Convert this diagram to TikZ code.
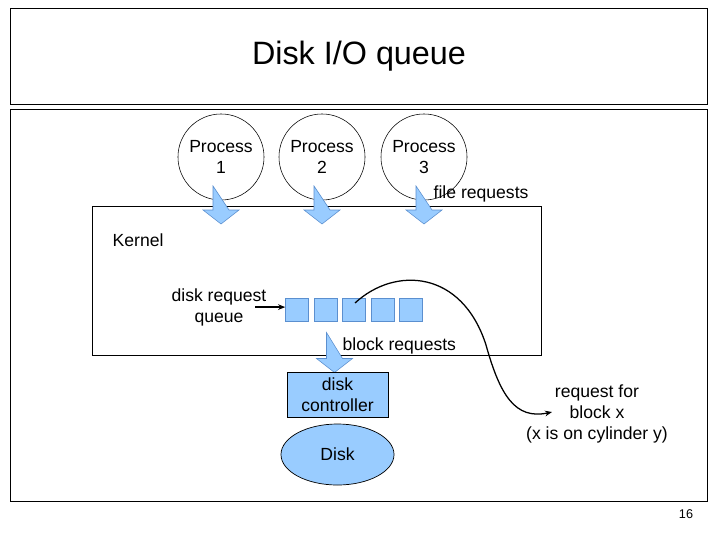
\documentclass[tikz,border=0pt]{standalone}
\usepackage{fontspec}
\setmainfont{Liberation Sans}
\usetikzlibrary{shapes.geometric, arrows.meta, positioning}
\definecolor{DiskBlue}{HTML}{99CCFF}
\definecolor{DiskEdge}{HTML}{5B8FCF}
\definecolor{DiskBlack}{HTML}{000000}
\definecolor{DiskWhite}{HTML}{FFFFFF}
\tikzset{
    framebox/.style={
        draw=DiskBlack,
        line width=0.7pt,
        fill=none,
        inner sep=0pt
    },
    process/.style={
        circle,
        draw=DiskBlack,
        line width=0.4pt,
        fill=DiskWhite,
        minimum size=2.15cm,
        align=center,
        inner sep=0pt
    },
    slot/.style={
        draw=DiskEdge,
        line width=0.5pt,
        fill=DiskBlue,
        minimum width=0.575cm,
        minimum height=0.575cm,
        inner sep=0pt
    },
    ctrlbox/.style={
        draw=DiskBlack,
        line width=0.6pt,
        fill=DiskBlue,
        minimum width=2.525cm,
        minimum height=1.125cm,
        align=center,
        inner sep=0pt
    },
    diskshape/.style={
        ellipse,
        draw=DiskBlack,
        line width=0.5pt,
        fill=DiskBlue,
        minimum width=2.825cm,
        minimum height=1.525cm,
        inner sep=0pt
    },
    label/.style={
        align=center,
        inner sep=1pt
    },
    fatbody/.style={
        draw=DiskEdge,
        line width=0.4pt,
        fill=DiskBlue
    },
    thinarrow/.style={
        -{Stealth[length=5pt,width=4pt]},
        line width=0.9pt,
        DiskBlack
    },
    pics/fatarrow/.style={
        code={
            \draw[fatbody] (-8,0) -- (-8,#1-14) -- (-18,#1-14) -- (0,#1)
                -- (18,#1-14) -- (8,#1-14) -- cycle;
        }
    }
}

\begin{document}
\begin{tikzpicture}[x=0.025cm, y=-0.025cm, font=\fontsize{12.5}{15}\selectfont]
        \useasboundingbox (0,0) rectangle (720,540);

        % Title
        \node[framebox, minimum width=17.4cm, minimum height=2.375cm,
              font=\fontsize{23}{27}\selectfont] (title) at (359,56.5) {Disk I/O queue};
        \node[framebox, minimum width=17.4cm, minimum height=9.775cm] (slide) at (359,305.5) {};

        % Kernel
        \node[framebox, minimum width=11.2cm, minimum height=3.7cm] (kernel) at (317,281) {};
        \node[label, anchor=west] (kernlabel) at (111,240) {Kernel};

        % Processes
        \node[process] (p1) at (221,157) {Process\\1};
        \node[process] (p2) at (322,157) {Process\\2};
        \node[process] (p3) at (424,157) {Process\\3};
        \foreach \p in {p1,p2,p3}
            \path (\p.center) ++(0,29) pic {fatarrow=38};
        \node[label, anchor=west] (filereq) at (432,194) {file requests};

        % Disk request queue
        \foreach \i in {1,...,5}
            \node[slot] (q\i) at ({297+28.5*(\i-1)},309.5) {};
        \node[label] (qlabel) at (219,307) {disk request\\queue};
        \draw[thinarrow] ([xshift=-0.75cm,yshift=0.06cm]q1.west) -- ([yshift=0.06cm]q1.west);

        % Down to the controller
        \path (kernel.south -| q2.center) ++(9,-23) pic {fatarrow=40};
        \node[label, anchor=west] (blockreq) at (341,346) {block requests};
        \node[ctrlbox] (ctrl) at (337.5,394.5) {disk\\controller};
        \node[diskshape] (disk) at (337.5,454.5) {Disk};

        % Request for one block
        \node[label] (request) at (597,414) {request for\\block x\\(x is on cylinder y)};
        \coordinate (pick) at (355,303);
        \coordinate (reqtip) at (552,412);
        \draw[thinarrow] (pick) .. controls (395,266) and (462,270) .. (486,345)
            .. controls (500,395) and (515,420) .. (reqtip);

        \node[label, font=\fontsize{9}{11}\selectfont] (pagenum) at (686,514) {16};
    \end{tikzpicture}
\end{document}
